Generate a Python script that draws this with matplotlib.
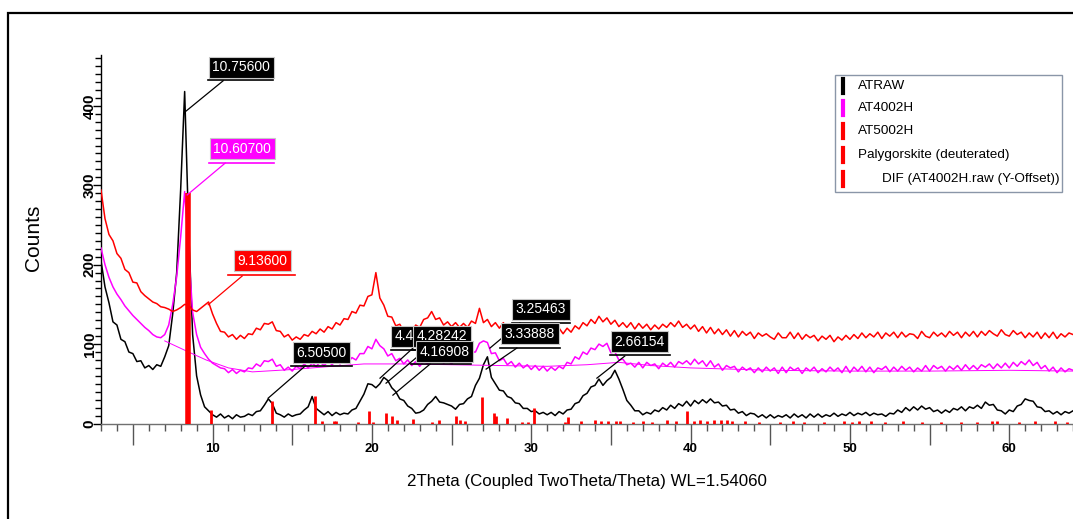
import numpy as np
import matplotlib
matplotlib.use('Agg')
import matplotlib.pyplot as plt
from matplotlib.patches import Rectangle
from matplotlib.lines import Line2D
from matplotlib.ticker import MultipleLocator, FixedLocator, FuncFormatter

plt.rcParams['font.family'] = ['Liberation Sans', 'DejaVu Sans']

# Counts, 4 values per degree (x.00, x.25, x.50, x.75), from 3.00 to 64.00
START = 3.0
STEP = 0.25

atraw = [
    205, 172, 152, 128,  # 3
    124, 106, 103, 90,   # 4
    88, 78, 79, 70,      # 5
    73, 68, 74, 72,      # 6
    84, 98, 138, 190,    # 7
    295, 418, 245, 112,  # 8
    60, 36, 21, 16,      # 9
    11, 8, 12, 7,        # 10
    10, 6, 11, 8,        # 11
    9, 12, 10, 15,       # 12
    16, 23, 31, 25,      # 13
    13, 11, 8, 12,       # 14
    9, 11, 12, 17,       # 15
    21, 34, 19, 15,      # 16
    11, 15, 10, 14,      # 17
    11, 13, 12, 17,      # 18
    19, 28, 37, 50,      # 19
    49, 45, 50, 58,      # 20
    54, 45, 40, 31,      # 21
    29, 22, 19, 13,      # 22
    14, 17, 24, 28,      # 23
    34, 27, 26, 24,      # 24
    22, 18, 24, 25,      # 25
    31, 34, 48, 57,      # 26
    74, 84, 58, 50,      # 27
    42, 41, 34, 32,      # 28
    26, 25, 19, 19,      # 29
    15, 16, 12, 14,      # 30
    11, 14, 10, 15,      # 31
    12, 17, 18, 25,      # 32
    27, 35, 38, 46,      # 33
    48, 56, 48, 54,      # 34
    58, 67, 56, 43,      # 35
    29, 23, 16, 16,      # 36
    11, 14, 12, 17,      # 37
    15, 20, 17, 23,      # 38
    19, 25, 22, 28,      # 39
    22, 29, 25, 30,      # 40
    26, 31, 26, 27,      # 41
    22, 23, 17, 18,      # 42
    13, 15, 10, 13,      # 43
    12, 8, 11, 7,        # 44
    11, 7, 10, 8,        # 45
    11, 7, 12, 8,        # 46
    11, 7, 12, 8,        # 47
    12, 8, 11, 9,        # 48
    13, 9, 12, 10,       # 49
    14, 10, 13, 11,      # 50
    14, 10, 13, 11,      # 51
    12, 9, 13, 12,       # 52
    17, 14, 20, 16,      # 53
    21, 17, 22, 18,      # 54
    20, 15, 17, 13,      # 55
    17, 14, 19, 17,      # 56
    21, 16, 21, 19,      # 57
    23, 19, 27, 23,      # 58
    24, 17, 16, 12,      # 59
    17, 15, 22, 24,      # 60
    31, 29, 28, 21,      # 61
    20, 15, 16, 12,      # 62
    15, 11, 15, 13,      # 63
    16,                  # 64
]

at4002h = [
    221, 200, 184, 172,  # 3
    163, 156, 148, 142,  # 4
    136, 131, 126, 121,  # 5
    117, 112, 109, 108,  # 6
    112, 124, 150, 185,  # 7
    235, 292, 215, 140,  # 8
    112, 96, 88, 81,     # 9
    76, 73, 70, 69,      # 10
    64, 68, 63, 67,      # 11
    65, 70, 69, 75,      # 12
    72, 79, 78, 81,      # 13
    72, 74, 67, 71,      # 14
    66, 72, 69, 75,      # 15
    70, 76, 72, 77,      # 16
    73, 78, 74, 79,      # 17
    75, 80, 77, 83,      # 18
    80, 88, 88, 97,      # 19
    94, 106, 98, 94,     # 20
    85, 88, 79, 82,      # 21
    75, 80, 73, 78,      # 22
    72, 78, 75, 81,      # 23
    77, 82, 76, 79,      # 24
    75, 82, 77, 84,      # 25
    80, 90, 90, 101,     # 26
    104, 102, 88, 89,    # 27
    79, 82, 74, 78,      # 28
    71, 76, 70, 74,      # 29
    68, 73, 67, 72,      # 30
    66, 71, 67, 72,      # 31
    69, 77, 75, 84,      # 32
    81, 90, 87, 95,      # 33
    93, 100, 97, 101,    # 34
    89, 90, 80, 81,      # 35
    74, 76, 71, 77,      # 36
    70, 77, 73, 75,      # 37
    69, 76, 72, 77,      # 38
    71, 78, 75, 79,      # 39
    74, 81, 75, 79,      # 40
    72, 79, 71, 75,      # 41
    67, 73, 70, 72,      # 42
    65, 71, 67, 70,      # 43
    64, 70, 65, 71,      # 44
    66, 70, 63, 71,      # 45
    64, 71, 67, 70,      # 46
    63, 70, 66, 71,      # 47
    64, 69, 65, 71,      # 48
    66, 70, 64, 72,      # 49
    64, 71, 66, 72,      # 50
    65, 71, 64, 70,      # 51
    68, 72, 65, 71,      # 52
    66, 72, 67, 71,      # 53
    65, 70, 66, 73,      # 54
    66, 73, 69, 72,      # 55
    66, 72, 68, 73,      # 56
    67, 74, 68, 73,      # 57
    68, 74, 71, 75,      # 58
    69, 75, 70, 76,      # 59
    70, 77, 72, 78,      # 60
    74, 80, 73, 77,      # 61
    69, 73, 66, 71,      # 62
    64, 70, 65, 69,      # 63
    67,                  # 64
]

at5002h = [
    294, 258, 238, 230,  # 3
    214, 208, 194, 190,  # 4
    178, 177, 166, 161,  # 5
    157, 153, 151, 147,  # 6
    146, 144, 141, 143,  # 7
    146, 150, 149, 143,  # 8
    141, 145, 149, 153,  # 9
    138, 126, 116, 115,  # 10
    109, 112, 106, 111,  # 11
    107, 113, 112, 120,  # 12
    118, 126, 125, 128,  # 13
    117, 116, 109, 112,  # 14
    105, 109, 106, 112,  # 15
    110, 116, 113, 119,  # 16
    115, 122, 119, 127,  # 17
    124, 132, 131, 141,  # 18
    139, 149, 148, 160,  # 19
    162, 190, 158, 149,  # 20
    135, 134, 123, 125,  # 21
    116, 120, 115, 124,  # 22
    121, 131, 133, 141,  # 23
    131, 133, 124, 128,  # 24
    122, 127, 121, 126,  # 25
    121, 129, 126, 145,  # 26
    127, 131, 122, 127,  # 27
    120, 127, 119, 124,  # 28
    125, 118, 124, 116,  # 29
    123, 116, 122, 117,  # 30
    115, 121, 114, 120,  # 31
    113, 120, 115, 123,  # 32
    119, 127, 123, 131,  # 33
    126, 135, 128, 133,  # 34
    125, 130, 122, 127,  # 35
    121, 127, 119, 126,  # 36
    120, 125, 118, 124,  # 37
    119, 125, 121, 127,  # 38
    122, 129, 121, 125,  # 39
    119, 124, 116, 122,  # 40
    114, 121, 113, 119,  # 41
    112, 118, 110, 117,  # 42
    109, 116, 111, 115,  # 43
    107, 114, 110, 113,  # 44
    109, 106, 114, 108,  # 45
    108, 115, 107, 114,  # 46
    106, 112, 108, 111,  # 47
    104, 110, 106, 111,  # 48
    103, 109, 105, 111,  # 49
    106, 112, 107, 114,  # 50
    108, 113, 109, 115,  # 51
    107, 114, 110, 115,  # 52
    108, 115, 109, 113,  # 53
    112, 107, 116, 110,  # 54
    108, 115, 110, 114,  # 55
    109, 116, 111, 115,  # 56
    108, 115, 110, 116,  # 57
    109, 116, 111, 117,  # 58
    113, 110, 118, 112,  # 59
    110, 117, 112, 115,  # 60
    108, 114, 109, 115,  # 61
    107, 114, 108, 115,  # 62
    107, 113, 109, 114,  # 63
    112,                 # 64
]

# smooth background drawn under AT4002H
bg_theta = [7.0, 8.5, 9.6, 11.0, 12.5, 15.0, 17.5, 19.5, 22.0, 25.0, 28.0, 31.0,
            33.5, 35.5, 37.5, 40.0, 45.0, 50.0, 55.0, 60.0, 64.0]
bg_counts = [104, 90, 80, 70, 65, 68, 72, 75, 75, 74, 73, 72,
             74, 77, 73, 70, 67, 66, 66, 67, 66]

# Palygorskite reference sticks
stick_pos = [8.45, 9.93, 13.75, 16.4, 16.9, 17.6, 17.75, 19.15, 19.8, 20.1, 20.9, 21.25,
             21.6, 22.6, 23.8, 24.2, 25.3, 25.5, 25.85, 26.9, 27.65, 27.8, 28.5, 29.4,
             29.8, 30.2, 32.1, 32.3, 33.1, 34.0, 34.4, 34.8, 35.3, 35.6, 36.4, 37.0,
             37.6, 38.5, 39.1, 39.75, 40.2, 40.6, 41.0, 41.5, 41.9, 42.3, 42.6, 43.4,
             44.3, 45.6, 46.4, 47.1, 48.4, 49.6, 50.1, 50.6, 51.3, 52.2, 53.3, 54.5,
             55.7, 57.0, 58.0, 58.9, 59.2, 60.6, 61.6, 62.9, 63.6]
stick_int = [290, 17, 28, 35, 3, 3, 3, 2, 16, 2, 13, 9,
             5, 6, 2, 5, 9, 4, 3, 33, 13, 10, 7, 2,
             2, 20, 2, 8, 3, 4, 3, 3, 3, 3, 2, 3,
             2, 4, 3, 16, 3, 4, 3, 4, 5, 4, 3, 3,
             2, 2, 3, 2, 2, 3, 2, 3, 3, 2, 3, 2,
             2, 2, 2, 3, 3, 2, 3, 3, 2]

# peak labels: text, colour, box centre, underline (x0, x1, y), leader start, leader end
peak_labels = [
    ('10.75600', 'black', (11.80, 448.7), (9.73, 13.80, 432.5), (10.67, 431.6), (8.29, 392.6)),
    ('10.60700', '#ff00ff', (11.86, 345.9), (9.79, 13.87, 328.2), (10.80, 328.0), (8.41, 287.8)),
    ('9.13600', '#ff0000', (13.12, 204.7), (10.98, 15.18, 187.0), (11.86, 185.7), (9.73, 149.6)),
    ('6.50500', 'black', (16.85, 89.3), (14.93, 18.75, 72.3), (15.81, 72.3), (13.49, 31.9)),
    ('4.48242', 'black', (23.02, 110.1), (21.2, 24.8, 92.0), (22.58, 95.0), (20.51, 57.1)),
    ('4.28242', 'black', (24.40, 110.1), (22.5, 26.2, 92.0), (23.20, 89.9), (20.89, 50.8)),
    ('4.16908', 'black', (24.56, 90.5), (22.43, 26.19, 74.8), (23.65, 74.8), (21.32, 35.7)),
    ('3.25463', 'black', (30.61, 144.1), (28.79, 32.42, 126.5), (29.29, 126.5), (27.41, 95.0)),
    ('3.33888', 'black', (29.92, 113.2), (28.04, 31.80, 95.0), (29.10, 95.0), (27.17, 68.5)),
    ('2.66154', 'black', (36.81, 103.2), (34.93, 38.69, 86.1), (35.87, 84.9), (34.12, 57.1)),
]

legend_names = ['ATRAW', 'AT4002H', 'AT5002H', 'Palygorskite (deuterated)', 'DIF (AT4002H.raw (Y-Offset))']
legend_colors = ['black', '#ff00ff', '#ff0000', '#ff0000', '#ff0000']

W, H = 1073, 519
fig = plt.figure(figsize=(W / 100, H / 100), dpi=100)
ax = fig.add_axes([101 / W, 1 - 423.5 / H, (W - 101) / W, (423.5 - 55) / H])


def theta_axis(values):
    return START + STEP * np.arange(len(values))


ax.plot(theta_axis(atraw), atraw, color='black', lw=1.1, zorder=3)
ax.plot(theta_axis(at4002h), at4002h, color='#ff00ff', lw=1.1, zorder=3)
ax.plot(theta_axis(at5002h), at5002h, color='#ff0000', lw=1.1, zorder=3)
ax.plot(bg_theta, bg_counts, color='#ff00ff', lw=0.7, zorder=3)

widths = [4.0 if h > 100 else 2.0 for h in stick_int]
ax.vlines(stick_pos, 0, stick_int, colors='#ff0000', linewidths=widths, zorder=4)

for text, col, (bx, by), (ux0, ux1, uy), (lx0, ly0), (lx1, ly1) in peak_labels:
    ax.plot([lx0, lx1], [ly0, ly1], color=col, lw=0.9, zorder=5)
    ax.plot([ux0, ux1], [uy, uy], color=col, lw=1.2, zorder=6)
    ax.text(bx, by, text, color='white', fontsize=10, ha='center', va='center', zorder=7,
            bbox=dict(boxstyle='square,pad=0.25', fc=col, ec='#c8c8c8', lw=0.8))

ax.set_xlim(3.0, 64.0)
ax.set_ylim(0, 464)

for side in ['top', 'right']:
    ax.spines[side].set_visible(False)
ax.spines['left'].set_linewidth(1.0)
ax.spines['bottom'].set_linewidth(1.0)
ax.spines['bottom'].set_color('#707070')

ax.xaxis.set_major_locator(FixedLocator([5, 10, 15, 20, 25, 30, 35, 40, 45, 50, 55, 60]))
ax.xaxis.set_minor_locator(MultipleLocator(1))
ax.xaxis.set_major_formatter(FuncFormatter(lambda v, p: '%d' % v if v % 10 == 0 else ''))
ax.yaxis.set_major_locator(MultipleLocator(100))
ax.yaxis.set_minor_locator(MultipleLocator(10))

ax.tick_params(axis='x', which='major', direction='out', length=9, width=1.0, color='#555555', pad=5)
ax.tick_params(axis='x', which='minor', direction='out', length=5, width=1.0, color='#555555')
ax.tick_params(axis='y', which='major', direction='out', length=6, width=1.0, pad=-3)
ax.tick_params(axis='y', which='minor', direction='out', length=4, width=1.0)

for tick in ax.xaxis.get_major_ticks():
    if tick.get_loc() % 10 == 0:
        tick.tick1line.set_markersize(15)

for lab in ax.get_xticklabels():
    lab.set_fontsize(9.5)
    lab.set_fontweight('bold')
for lab in ax.get_yticklabels():
    lab.set_fontsize(11)
    lab.set_fontweight('bold')
    lab.set_rotation(90)
    lab.set_va('center')

ax.set_xlabel('2Theta (Coupled TwoTheta/Theta) WL=1.54060', fontsize=12.2, labelpad=14)
fig.text(33 / W, 1 - 238 / H, 'Counts', rotation=90, fontsize=15, ha='center', va='center')

# legend box
fig.add_artist(Rectangle((835 / W, 1 - 192 / H), (1062 - 835) / W, (192 - 75) / H,
                         transform=fig.transFigure, fc='white', ec='#8a96a8', lw=1.0, zorder=10))
row_y = [86, 108, 131, 155, 179]
for i, (name, col) in enumerate(zip(legend_names, legend_colors)):
    yy = 1 - row_y[i] / H
    fig.add_artist(Line2D([843 / W, 843 / W], [yy - 7 / H, yy + 7 / H], transform=fig.transFigure,
                          color=col, lw=3, zorder=11))
    tx = 882 if i == 4 else 858
    fig.text(tx / W, yy, name, fontsize=9.7, ha='left', va='center', zorder=11)

# outer frame
fig.add_artist(Rectangle((8 / W, -0.1), 1.2, 0.1 + 1 - 13 / H, transform=fig.transFigure,
                         fill=False, ec='black', lw=1.6, zorder=12))

fig.savefig('out.png', dpi=100)
